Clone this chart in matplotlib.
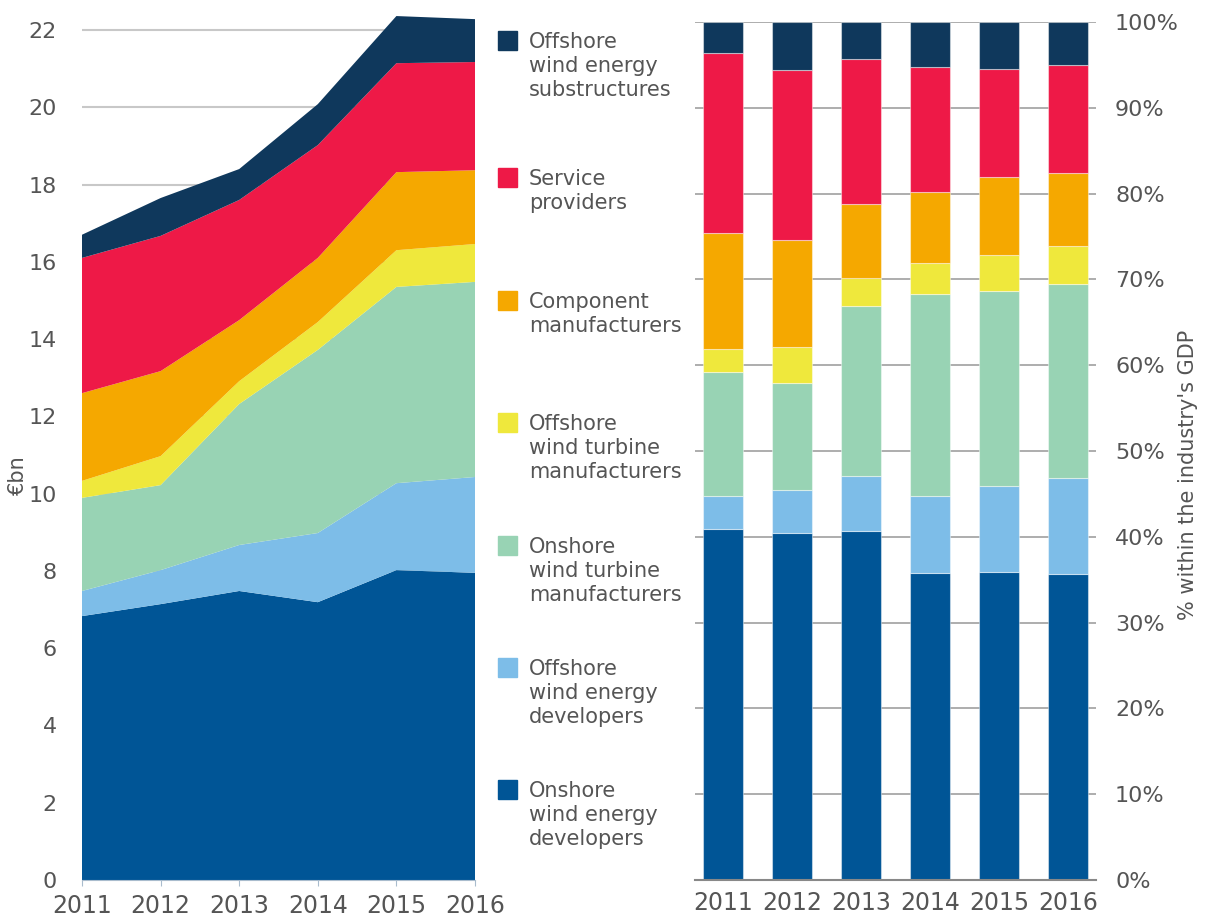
import matplotlib
matplotlib.use('agg')
import matplotlib.pyplot as plt
import numpy as np
from matplotlib.patches import Rectangle

plt.rcParams['font.family'] = ['DejaVu Sans']

years = ['2011', '2012', '2013', '2014', '2015', '2016']

# EUR bn per segment, bottom to top
onshore_dev = [6.83, 7.14, 7.48, 7.19, 8.02, 7.95]
offshore_dev = [0.65, 0.88, 1.19, 1.79, 2.25, 2.48]
onshore_turb = [2.41, 2.20, 3.65, 4.74, 5.08, 5.05]
offshore_turb = [0.44, 0.75, 0.59, 0.72, 0.95, 0.98]
component = [2.27, 2.20, 1.58, 1.66, 2.02, 1.91]
service = [3.50, 3.50, 3.11, 2.92, 2.82, 2.80]
substructures = [0.60, 0.98, 0.80, 1.06, 1.22, 1.11]

series = [onshore_dev, offshore_dev, onshore_turb, offshore_turb,
          component, service, substructures]
colors = ['#005596', '#7dbde8', '#98d3b4', '#efe83c',
          '#f5a800', '#ee1947', '#0f385c']
labels = ['Onshore\nwind energy\ndevelopers',
          'Offshore\nwind energy\ndevelopers',
          'Onshore\nwind turbine\nmanufacturers',
          'Offshore\nwind turbine\nmanufacturers',
          'Component\nmanufacturers',
          'Service\nproviders',
          'Offshore\nwind energy\nsubstructures']

W, H = 1207, 919
fig = plt.figure(figsize=(W / 100, H / 100), dpi=100)
txt = '#555555'

# ---- left: stacked area
ax = fig.add_axes([82 / W, 39 / H, 393 / W, 865.5 / H])
x = np.arange(len(years))
ax.stackplot(x, *series, colors=colors, linewidth=0, zorder=2)
ax.set_xlim(0, 5)
ax.set_ylim(0, 22.4)
ax.set_yticks(range(0, 23, 2))
ax.set_xticks(x)
ax.set_xticklabels(years)
ax.grid(axis='y', color='#c8c8c8', linewidth=1.5, zorder=0)
for s in ['top', 'right', 'left']:
    ax.spines[s].set_visible(False)
ax.spines['bottom'].set_color('#a9bccd')
ax.tick_params(axis='y', length=0, pad=18, labelsize=16, labelcolor=txt)
ax.tick_params(axis='x', length=4, color='#a9bccd', pad=6, labelsize=17, labelcolor=txt)
fig.text(18 / W, 1 - 475 / H, '€bn', rotation=90, ha='center', va='center',
         fontsize=15, color=txt)

# ---- right: 100% stacked bars
totals = np.sum(series, axis=0)
ax2 = fig.add_axes([695.4 / W, 39 / H, 400.2 / W, 858 / H])
bottom = np.zeros(len(years))
for vals, c in zip(series, colors):
    share = np.array(vals) / totals * 100
    ax2.bar(x, share, bottom=bottom, width=0.57, color=c,
            edgecolor=(1, 1, 1, 0.45), linewidth=0.8, zorder=2)
    bottom += share
ax2.set_xlim(-0.4, 5.4)
ax2.set_ylim(0, 100)
ax2.set_yticks(range(0, 101, 10))
ax2.set_yticklabels([f'{v}%' for v in range(0, 101, 10)])
ax2.yaxis.tick_right()
ax2.set_xticks(x)
ax2.set_xticklabels(years)
ax2.grid(axis='y', color='#a0a0a0', linewidth=1.2, zorder=0)
for s in ['top', 'right', 'left']:
    ax2.spines[s].set_visible(False)
ax2.spines['bottom'].set_color('#888888')
ax2.spines['bottom'].set_linewidth(1.5)
ax2.tick_params(axis='y', length=0, pad=14, labelsize=16, labelcolor=txt)
ax2.tick_params(axis='x', length=0, pad=8, labelsize=17, labelcolor=txt)
fig.text(1188 / W, 1 - 475 / H, "% within the industry's GDP", rotation=90,
         ha='center', va='center', fontsize=15, color=txt)

# ---- legend in the middle, top to bottom
tops = [31, 168, 291, 413, 536, 658, 780]
for lab, c, t in zip(labels[::-1], colors[::-1], tops):
    fig.patches.append(Rectangle((498 / W, 1 - (t + 19) / H), 19 / W, 19 / H,
                                 transform=fig.transFigure, color=c))
    fig.text(529 / W, 1 - (t + 1) / H, lab, ha='left', va='top',
             fontsize=15, color=txt, linespacing=1.25)

plt.savefig('out.png', dpi=100)
plt.close()
